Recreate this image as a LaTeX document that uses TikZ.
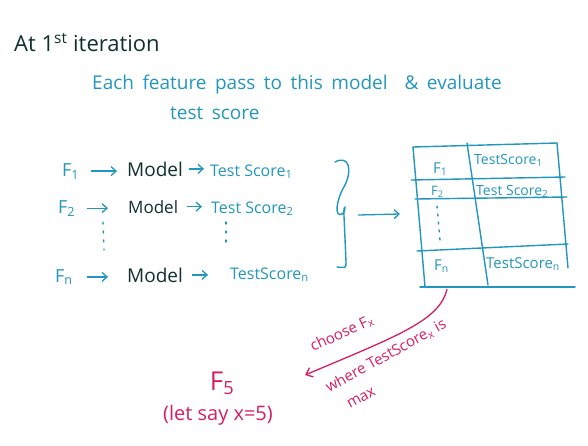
\documentclass[tikz,border=0pt]{standalone}
\usepackage{fontspec}
\setmainfont{Open Sans}
\usetikzlibrary{arrows.meta}
\definecolor{tealblue}{RGB}{34,150,190}
\definecolor{darkink}{RGB}{15,50,40}
\definecolor{pinkink}{RGB}{214,30,100}
\tikzset{
  blu/.style={text=tealblue, inner sep=0pt, anchor=base west},
  mdl/.style={text=darkink, inner sep=0pt, anchor=base west, font=\fontsize{19}{19}\selectfont},
  rowtxt/.style={blu, font=\fontsize{16}{16}\selectfont},
  fvar/.style={blu, font=\fontsize{18}{18}\selectfont},
  arr/.style={draw=tealblue, line width=1.3pt, -{Straight Barb[length=5pt,width=9pt]}},
  tline/.style={draw=tealblue, line width=1.4pt, line cap=round},
  pk/.style={text=pinkink, inner sep=0pt, font=\fontsize{15}{15}\selectfont},
  dotcol/.style={draw=tealblue, line width=1.4pt, dash pattern=on 2pt off 7pt, line cap=round}
}
\begin{document}
\begin{tikzpicture}[x=1pt,y=-1pt]
\useasboundingbox (0,0) rectangle (588,445);
% title
\node[text=darkink, inner sep=0pt, anchor=base west, font=\fontsize{22}{22}\selectfont] (title) at (14,51) {At 1\textsuperscript{st} iteration};
\node[blu, font=\fontsize{19}{19}\selectfont] (sub1) at (92,89) {\spaceskip=8.5pt\relax Each feature pass to this model \ \& evaluate};
\node[blu, font=\fontsize{19}{19}\selectfont] (sub2) at (170,119) {\spaceskip=8.5pt\relax test score};
% rows
\node[fvar] (f1) at (62,176) {F\textsubscript{1}};
\node[mdl] (m1) at (127,176) {Model};
\node[rowtxt] (t1) at (210,176) {Test Score\textsubscript{1}};
\node[fvar] (f2) at (58,213) {F\textsubscript{2}};
\node[mdl, font=\fontsize{17}{17}\selectfont] (m2) at (128,213) {Model};
\node[rowtxt] (t2) at (211,213) {Test Score\textsubscript{2}};
\node[fvar] (fn) at (55,282) {F\textsubscript{n}};
\node[mdl] (mn) at (127,282) {Model};
\node[rowtxt] (tn) at (230,279) {TestScore\textsubscript{n}};
\draw[arr, shorten <=12pt, shorten >=10pt] (f1.east) -- (f1.east -| m1.west);
\draw[arr, shorten <=6pt, shorten >=6pt] (m1.east) -- (m1.east -| t1.west);
\draw[arr, shorten <=12pt, shorten >=20pt] (f2.east) -- (f2.east -| m2.west);
\draw[arr, shorten <=9pt, shorten >=9pt] (m2.east) -- (m2.east -| t2.west);
\draw[arr, shorten <=14pt, shorten >=19pt] (fn.east) -- (fn.east -| mn.west);
\draw[arr, shorten <=9pt, shorten >=22pt] (mn.east) -- (mn.east -| tn.west);
\coordinate (d1a) at (103,222); \coordinate (d1b) at (104,250);
\coordinate (d2a) at (226,222); \coordinate (d2b) at (226,246);
\draw[dotcol] (d1a) -- (d1b);
\draw[dotcol] (d2a) -- (d2b);
% brace
\draw[tline] (335,162) .. controls (348,155) and (353,168) .. (345,185)
  .. controls (336,200) and (334,218) .. (342,214)
  .. controls (348,210) and (343,200) .. (344,216) -- (346,262)
  .. controls (346,268) .. (337,267);
\coordinate (bt) at (358,215);
\coordinate (ta) at (400,214);
\draw[arr] (bt) -- (ta);
% table
\coordinate (tl) at (413,147); \coordinate (tr) at (557,143);
\coordinate (bl) at (425,287); \coordinate (br) at (575,287);
\draw[tline] (tl) -- (tr);
\draw[tline] (tl) -- (bl);
\draw[tline] (tr) -- (568,268);
\draw[tline] (420,287) -- (br);
\draw[tline] (411,180) -- (565,177);
\draw[tline] (415,199) -- (567,197);
\draw[tline] (417,251) -- (568,244);
\draw[tline] (467,143) -- (488,285);
\node[rowtxt, font=\fontsize{15}{15}\selectfont] (c11) at (433,173) {F\textsubscript{1}};
\node[rowtxt, font=\fontsize{14}{14}\selectfont] (c12) at (474,164) {TestScore\textsubscript{1}};
\node[rowtxt, font=\fontsize{13}{13}\selectfont] (c21) at (431,195) {F\textsubscript{2}};
\node[rowtxt, font=\fontsize{14}{14}\selectfont] (c22) at (476,195) {Test Score\textsubscript{2}};
\coordinate (d3a) at (437,206); \coordinate (d3b) at (440,240);
\draw[dotcol, dash pattern=on 2pt off 6pt] (d3a) -- (d3b);
\node[rowtxt, font=\fontsize{15}{15}\selectfont] (cn1) at (434,270) {F\textsubscript{n}};
\node[rowtxt, font=\fontsize{15}{15}\selectfont] (cn2) at (486,268) {TestScore\textsubscript{n}};
% pink arrow
\coordinate (ps) at (447,289);
\coordinate (pe) at (305,375);
\draw[draw=pinkink, line width=1.3pt, -{Straight Barb[length=6pt,width=10pt]}] (ps) .. controls (440,320) and (400,335) .. (pe);
\node[pk, rotate=25, anchor=base west] (ch) at (313,352) {choose F\textsubscript{x}};
\node[pk, rotate=29, anchor=base west] (wh) at (329,393) {where TestScore\textsubscript{x} is};
\node[pk, rotate=29, anchor=base west] (mx) at (350,409) {max};
\node[pk, font=\fontsize{26}{26}\selectfont, anchor=base] (f5) at (222,390) {F\textsubscript{5}};
\node[pk, font=\fontsize{20}{20}\selectfont, anchor=base] (ls) at (218,420) {(let say x=5)};
\end{tikzpicture}
\end{document}
